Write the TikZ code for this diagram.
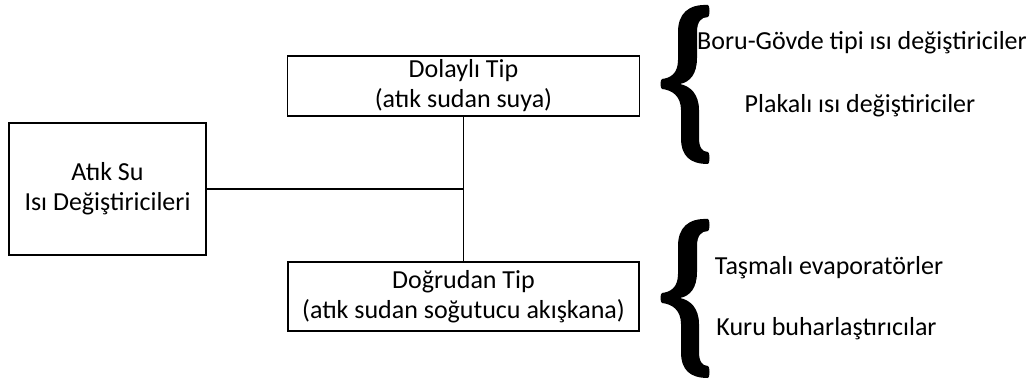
\documentclass[tikz,border=0pt]{standalone}
\usepackage{fontspec}
\setmainfont{Carlito}
\begin{document}
\begin{tikzpicture}[x=1pt,y=-1pt,
  every node/.style={font=\fontsize{26}{30}\selectfont},
  boxnode/.style={draw,line width=1.2pt,inner sep=0pt,align=center},
  txt/.style={inner sep=0pt,text height=0.72em,text depth=0.22em},
  link/.style={line width=1.2pt}]
\useasboundingbox (0,0) rectangle (1029,385);
\node[boxnode,minimum width=197pt,minimum height=132pt] (src) at (107.5,189) {Atık Su\\Isı Değiştiricileri};
\node[boxnode,minimum width=352pt,minimum height=60pt] (ind) at (463.5,86) {Dolaylı Tip\\(atık sudan suya)};
\node[boxnode,minimum width=351pt,minimum height=69pt] (dir) at (463.5,296.5) {Doğrudan Tip\\(atık sudan soğutucu akışkana)};
\draw[link] (ind.south) -- (dir.north);
\coordinate (j) at (src.east -| ind.south);
\draw[link] (src.east) -- (j);
\foreach \cy in {84,298}{
\fill[black,shift={(662,\cy)}] (46,-79) .. controls (26,-80) and (16,-70) .. (16,-52)
 -- (16,-24) .. controls (16,-10) and (8,-6) .. (0,-5)
 .. controls (-2,-4) and (-2,4) .. (0,5)
 .. controls (10,6) and (19,12) .. (19,26)
 -- (19,54) .. controls (19,72) and (28,80) .. (46,80)
 .. controls (48,80) and (48,68) .. (46,68)
 .. controls (40,68) and (37,63) .. (37,54)
 -- (37,26) .. controls (37,10) and (28,2) .. (18,0)
 .. controls (28,-2) and (35,-10) .. (35,-26)
 -- (35,-52) .. controls (35,-62) and (39,-67) .. (46,-67)
 .. controls (48,-67) and (48,-79) .. (46,-79) -- cycle;
}
\node[txt] (t1) at (862,47) {Boru-Gövde tipi ısı değiştiriciler};
\node[txt] (t2) at (860,110) {Plakalı ısı değiştiriciler};
\node[txt] (t3) at (829,272) {Taşmalı evaporatörler};
\node[txt] (t4) at (826.5,333) {Kuru buharlaştırıcılar};
\end{tikzpicture}
\end{document}
